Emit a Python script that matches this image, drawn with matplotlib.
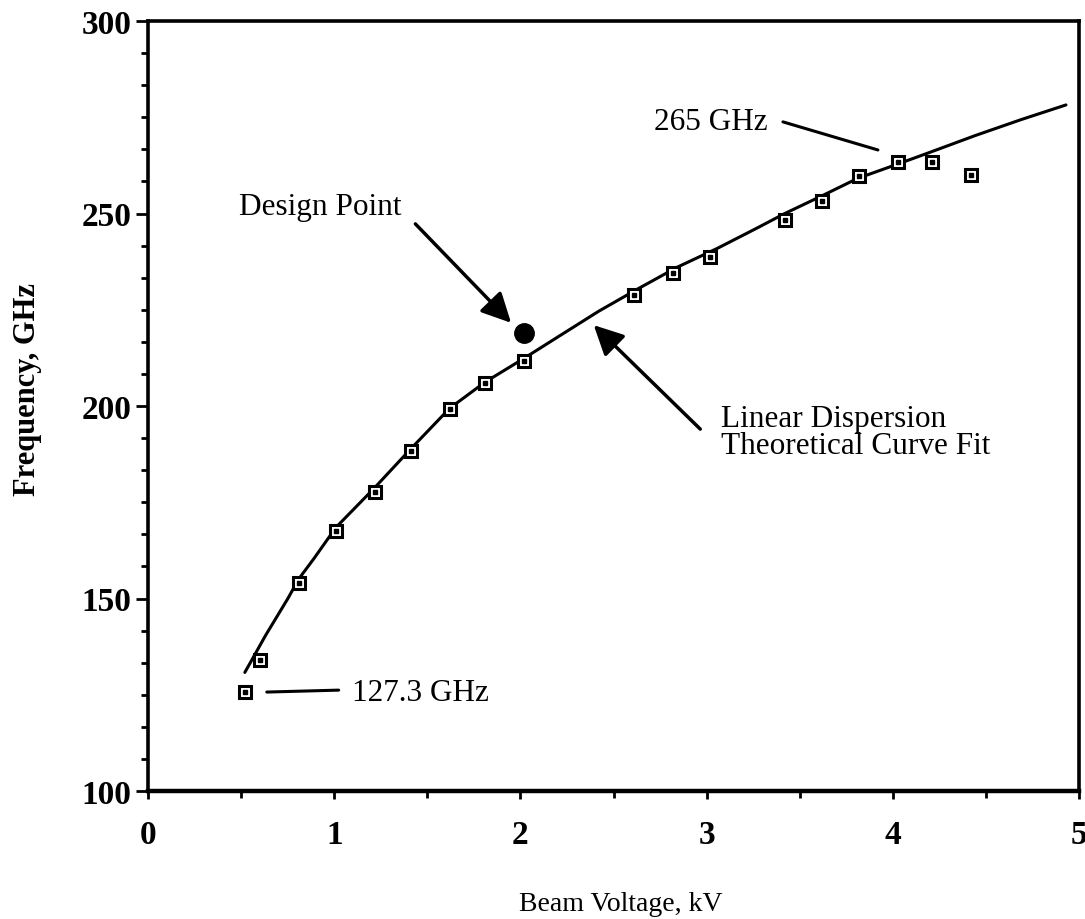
import matplotlib
matplotlib.use("Agg")
import matplotlib.pyplot as plt
from matplotlib.ticker import MultipleLocator

# ---- data ----
meas_kv = [0.52, 0.60, 0.81, 1.01, 1.22, 1.41, 1.62, 1.81, 2.02, 2.61,
           2.82, 3.02, 3.42, 3.62, 3.82, 4.03, 4.21, 4.42]
meas_ghz = [125.6, 134.0, 154.0, 167.6, 177.6, 188.4, 199.2, 206.0, 211.8, 228.8,
            234.5, 238.6, 248.4, 253.3, 259.8, 263.3, 263.3, 260.0]

curve_kv = [0.52, 0.57, 0.63, 0.75, 0.81, 0.89, 1.01, 1.21, 1.41, 1.62,
            1.81, 2.02, 2.20, 2.42, 2.63, 2.84, 3.06, 3.27, 3.42, 3.62,
            3.81, 4.03, 4.20, 4.44, 4.69, 4.93]
curve_ghz = [130.8, 135.1, 140.3, 149.9, 155.1, 160.3, 168.5, 178.4, 188.8, 199.4,
             206.2, 212.4, 217.9, 224.6, 230.4, 236.0, 241.0, 246.2, 250.0, 254.6,
             259.1, 262.9, 265.9, 270.2, 274.4, 278.2]

design_kv = [2.02]
design_ghz = [219.0]

x_ticks = [0, 1, 2, 3, 4, 5]
y_ticks = [100, 150, 200, 250, 300]

serif = ["Liberation Serif", "DejaVu Serif"]
plt.rcParams["font.family"] = serif

fig = plt.figure(figsize=(10.85, 9.2), dpi=100)
ax = fig.add_axes([148/1085, 1-792/920, 931/1085, 770/920])

ax.plot(curve_kv, curve_ghz, color="black", lw=2.2, solid_capstyle="round",
        solid_joinstyle="round", zorder=2)
ax.plot(meas_kv, meas_ghz, ls="none", marker="s", ms=9, mfc="white", mec="black",
        mew=2.2, zorder=3)
ax.plot(meas_kv, meas_ghz, ls="none", marker="s", ms=2.2, mfc="black", mec="black",
        zorder=4)
ax.plot(design_kv, design_ghz, ls="none", marker="o", ms=14, color="black", zorder=4)

ax.set_xlim(0, 5)
ax.set_ylim(100, 300)
ax.set_xticks(x_ticks)
ax.set_yticks(y_ticks)
ax.xaxis.set_minor_locator(MultipleLocator(0.5))
ax.yaxis.set_minor_locator(MultipleLocator(50/6))
ax.tick_params(axis="both", which="both", direction="out", width=2, colors="black")
ax.tick_params(axis="y", which="major", length=9, pad=3, labelsize=24)
ax.tick_params(axis="y", which="minor", length=5)
ax.tick_params(axis="x", which="major", length=6, pad=14, labelsize=24)
ax.tick_params(axis="x", which="minor", length=5)
for lab in ax.get_xticklabels() + ax.get_yticklabels():
    lab.set_fontweight("bold")
for s in ax.spines.values():
    s.set_linewidth(2.6)
ax.spines["bottom"].set_linewidth(3.2)

ax.set_xlabel("Beam Voltage, kV", fontsize=20, va="center")
ax.xaxis.set_label_coords((621-148)/931, (792-905)/770)
ax.set_ylabel("Frequency, GHz", fontsize=22, fontweight="bold", va="center")
ax.yaxis.set_label_coords((28-148)/931, (792-390)/770)

ann_fs = 22.5
arrow = dict(arrowstyle="-|>,head_length=0.9,head_width=0.45", color="black",
             lw=2.5, mutation_scale=20, shrinkA=0, shrinkB=0)

ax.text(0.49, 251.9, "Design Point", fontsize=ann_fs, ha="left", va="center")
ax.annotate("", xy=(1.95, 221.6), xytext=(1.436, 247.3), arrowprops=arrow)

ax.text(3.08, 193.2, "Linear Dispersion\nTheoretical Curve Fit", fontsize=ann_fs,
        ha="left", va="center", linespacing=0.92)
ax.annotate("", xy=(2.394, 221.0), xytext=(2.966, 194.0), arrowprops=arrow)

ax.text(3.33, 274.0, "265 GHz", fontsize=ann_fs, ha="right", va="center")
ax.plot([3.41, 3.92], [273.8, 266.5], color="black", lw=2.2, solid_capstyle="round")

ax.text(1.093, 125.7, "127.3 GHz", fontsize=ann_fs, ha="left", va="center")
ax.plot([0.638, 1.024], [125.7, 126.2], color="black", lw=2.2, solid_capstyle="round")

fig.savefig("out.png", dpi=100, facecolor="white")
